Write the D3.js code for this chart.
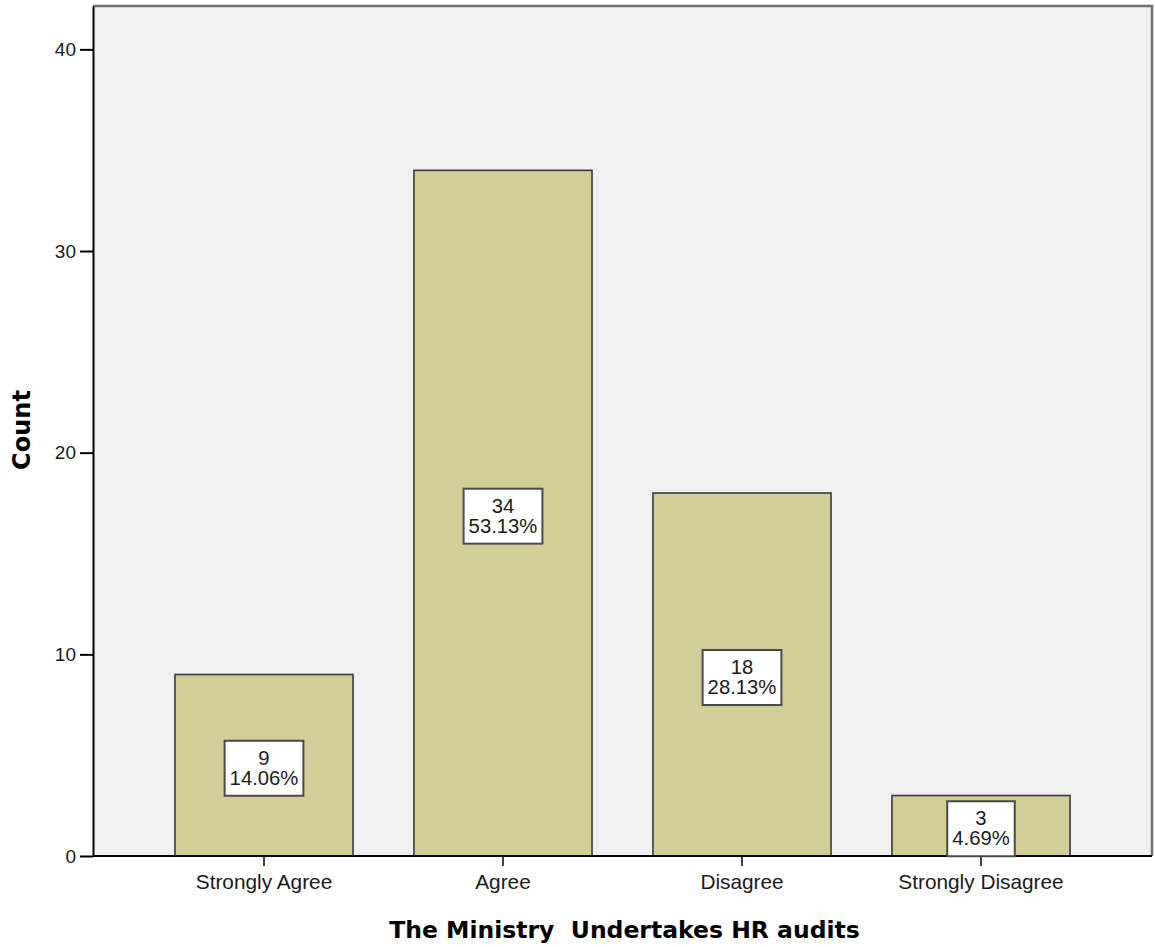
<!DOCTYPE html>
<html>
<head>
<meta charset="utf-8">
<script src="https://cdn.jsdelivr.net/npm/d3@7"></script>
<style>
  html, body { margin: 0; padding: 0; background: #ffffff; }
  svg { display: block; }
  text { font-family: Arial, "Liberation Sans", sans-serif; fill: #1a1a1a; }
  .title { font-family: "DejaVu Sans", Verdana, sans-serif; font-weight: bold; fill: #000; white-space: pre; }
</style>
</head>
<body>
<svg id="chart" width="1155" height="947"></svg>
<script>
// Response categories and counts
const categories = ["Strongly Agree", "Agree", "Disagree", "Strongly Disagree"];
const counts = [9, 34, 18, 3];
const percentLabels = ["14.06%", "53.13%", "28.13%", "4.69%"];
const yTicks = [0, 10, 20, 30, 40];
const yMax = 42.15;
const xTitle = "The Ministry  Undertakes HR audits";
const yTitle = "Count";

const svg = d3.select("#chart");
const plot = { left: 93, top: 6, right: 1152, bottom: 856 };

const x = d3.scaleBand()
  .domain(categories)
  .range([plot.left, plot.right])
  .paddingInner(0.255)
  .paddingOuter(0.343);

const y = d3.scaleLinear()
  .domain([0, yMax])
  .range([plot.bottom, plot.top]);

// Plot background
svg.append("rect")
  .attr("x", plot.left).attr("y", plot.top)
  .attr("width", plot.right - plot.left)
  .attr("height", plot.bottom - plot.top)
  .attr("fill", "#f0f0f0");

// Frame: top and right edges
svg.append("path")
  .attr("d", `M${plot.left},${plot.top}H${plot.right}V${plot.bottom}`)
  .attr("fill", "none")
  .attr("stroke", "#707070")
  .attr("stroke-width", 2.5);

// Bars
const data = categories.map((c, i) => ({ cat: c, n: counts[i], pct: percentLabels[i] }));
svg.append("g").selectAll("rect")
  .data(data)
  .join("rect")
  .attr("x", d => x(d.cat))
  .attr("y", d => y(d.n))
  .attr("width", x.bandwidth())
  .attr("height", d => y(0) - y(d.n))
  .attr("fill", "#d3ce97")
  .attr("stroke", "#3a3a3a")
  .attr("stroke-width", 1.6);

// Y axis
const yAxis = d3.axisLeft(y).tickValues(yTicks).tickSize(13).tickPadding(4).tickSizeOuter(0);
const gy = svg.append("g")
  .attr("transform", `translate(${plot.left},0)`)
  .call(yAxis);
gy.select(".domain").attr("stroke", "#000").attr("stroke-width", 2);
gy.selectAll(".tick line").attr("stroke", "#000").attr("stroke-width", 2);
gy.selectAll(".tick text")
  .attr("font-size", 19)
  .attr("font-family", "Arial, 'Liberation Sans', sans-serif")
  .attr("fill", "#1a1a1a");

// X axis
const xAxis = d3.axisBottom(x).tickSize(10).tickPadding(8).tickSizeOuter(0);
const gx = svg.append("g")
  .attr("transform", `translate(0,${plot.bottom})`)
  .call(xAxis);
gx.select(".domain").attr("stroke", "#000").attr("stroke-width", 2)
  .attr("d", `M${plot.left},0H${plot.right}`);
gx.selectAll(".tick line").attr("stroke", "#000").attr("stroke-width", 1.5);
gx.selectAll(".tick text")
  .attr("font-size", 20.8)
  .attr("font-family", "Arial, 'Liberation Sans', sans-serif")
  .attr("fill", "#1a1a1a");

// Value labels: count and percentage in a boxed label at the bar's midpoint
const labels = svg.append("g").selectAll("g")
  .data(data)
  .join("g")
  .attr("transform", d => `translate(${x(d.cat) + x.bandwidth() / 2},${y(d.n / 2) + 3})`);

labels.each(function(d) {
  const g = d3.select(this);
  const box = g.append("rect");
  const t1 = g.append("text")
    .attr("text-anchor", "middle")
    .attr("y", -3.5)
    .attr("font-size", 20.3)
    .text(d.n);
  const t2 = g.append("text")
    .attr("text-anchor", "middle")
    .attr("y", 16.5)
    .attr("font-size", 20.3)
    .text(d.pct);
  const w = Math.max(t1.node().getComputedTextLength(), t2.node().getComputedTextLength()) + 10;
  box.attr("x", -w / 2).attr("y", -27.5)
    .attr("width", w).attr("height", 55)
    .attr("fill", "#ffffff")
    .attr("stroke", "#4a4a4a")
    .attr("stroke-width", 2);
});

// Axis titles
svg.append("text")
  .attr("class", "title")
  .attr("x", (plot.left + plot.right) / 2 + 2)
  .attr("y", 938)
  .attr("text-anchor", "middle")
  .attr("font-size", 23.5)
  .text(xTitle);

svg.append("text")
  .attr("class", "title")
  .attr("transform", "translate(29.5,430) rotate(-90)")
  .attr("text-anchor", "middle")
  .attr("font-size", 24)
  .text(yTitle);
</script>
</body>
</html>
